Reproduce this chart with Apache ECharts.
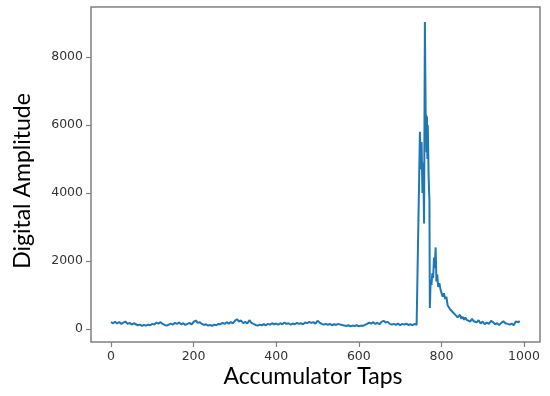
<!DOCTYPE html>
<html>
<head>
<meta charset="utf-8">
<script src="https://cdn.jsdelivr.net/npm/echarts@6/dist/echarts.min.js"></script>
<style>html,body{margin:0;padding:0;background:#fff}#c{width:550px;height:396px}</style>
</head>
<body>
<div id="c"></div>
<script>
// Accumulator tap index
const taps = [
  0,5,10,15,20,25,30,35,40,45,50,55,60,65,70,75,80,85,90,95,
  100,105,110,115,120,125,130,135,140,145,150,155,160,165,170,175,180,185,190,195,
  200,205,210,215,220,225,230,235,240,245,250,255,260,265,270,275,280,285,290,295,
  300,305,310,315,320,325,330,335,340,345,350,355,360,365,370,375,380,385,390,395,
  400,405,410,415,420,425,430,435,440,445,450,455,460,465,470,475,480,485,490,495,
  500,505,510,515,520,525,530,535,540,545,550,555,560,565,570,575,580,585,590,595,
  600,605,610,615,620,625,630,635,640,645,650,655,660,665,670,675,680,685,690,695,
  700,705,710,715,720,725,730,735,740,744,
  748,750,752,754,756,758,760,762,763,764,765,766,767,769,770,771,772,
  774,776,778,780,782,784,786,788,790,792,795,798,800,803,806,809,812,815,818,821,
  824,827,830,833,836,839,842,845,848,851,855,858,862,866,870,874,878,882,886,890,
  895,900,905,910,915,920,925,930,935,940,945,950,955,960,965,970,975,980,984,987,989
];
// Digital amplitude at each tap
const amplitude = [
  200,170,215,160,205,150,190,220,150,180,130,170,140,110,130,90,120,100,130,110,
  150,130,190,160,200,150,120,100,130,160,130,180,150,190,140,170,120,150,180,130,
  210,250,180,200,150,120,140,100,120,90,130,110,150,140,180,150,200,160,200,170,
  240,290,220,250,170,210,160,260,180,150,120,100,130,110,140,110,150,130,170,140,
  160,130,170,140,190,150,170,130,160,140,180,150,170,140,190,170,210,180,200,160,
  240,190,150,130,150,120,150,110,140,120,150,130,120,100,90,110,80,100,90,110,
  80,100,90,120,150,190,160,200,150,180,140,210,240,190,210,150,130,150,120,160,
  110,150,130,160,120,140,110,150,120,130,
  5800,4700,5500,4000,4900,3100,9030,6100,6300,5200,6250,5000,6000,4500,4100,3800,620,
  1440,1300,1640,1500,2100,1800,2400,1400,1600,1240,1350,1150,1200,950,1050,880,950,700,750,580,
  620,500,540,430,470,340,320,420,300,360,270,340,260,310,220,300,230,280,200,260,
  160,220,140,190,150,240,200,140,170,120,180,230,170,150,130,160,110,220,250,200,240
];
const xTicks = [0, 200, 400, 600, 800, 1000];
const yTicks = [0, 2000, 4000, 6000, 8000];

const data = taps.map((t, i) => [t, amplitude[i]]);
const chart = echarts.init(document.getElementById('c'), null, {renderer: 'canvas'});
const gray = '#808080';
const tickFont = {fontFamily: 'DejaVu Sans', fontSize: 12.5, color: '#333', formatter: v => String(v)};
chart.setOption({
  animation: false,
  grid: {left: 91, right: 10, top: 7, bottom: 54, show: true, borderColor: gray, borderWidth: 1.5, backgroundColor: 'transparent'},
  xAxis: {
    type: 'value', min: -48.4, max: 1038.7,
    splitLine: {show: false},
    axisLine: {show: false, onZero: false},
    axisTick: {show: true, length: 5, lineStyle: {color: gray, width: 1.2}, customValues: xTicks},
    axisLabel: Object.assign({customValues: xTicks, margin: 8}, tickFont)
  },
  yAxis: {
    type: 'value', min: -382, max: 9470,
    splitLine: {show: false},
    axisLine: {show: false, onZero: false},
    axisTick: {show: true, length: 5, lineStyle: {color: gray, width: 1.2}, customValues: yTicks},
    axisLabel: Object.assign({customValues: yTicks, margin: 8}, tickFont)
  },
  graphic: [
    {type: 'text', x: 313, y: 377, style: {text: 'Accumulator Taps', font: '23px Lato', fill: '#000', textAlign: 'center', textVerticalAlign: 'middle'}},
    {type: 'text', x: 23, y: 181, rotation: Math.PI / 2, style: {text: 'Digital Amplitude', font: '23px Lato', fill: '#000', textAlign: 'center', textVerticalAlign: 'middle'}}
  ],
  series: [{
    type: 'line', data: data, showSymbol: false, symbol: 'none', sampling: null,
    lineStyle: {color: '#1f77b4', width: 2}, z: 3
  }]
});
</script>
</body>
</html>
